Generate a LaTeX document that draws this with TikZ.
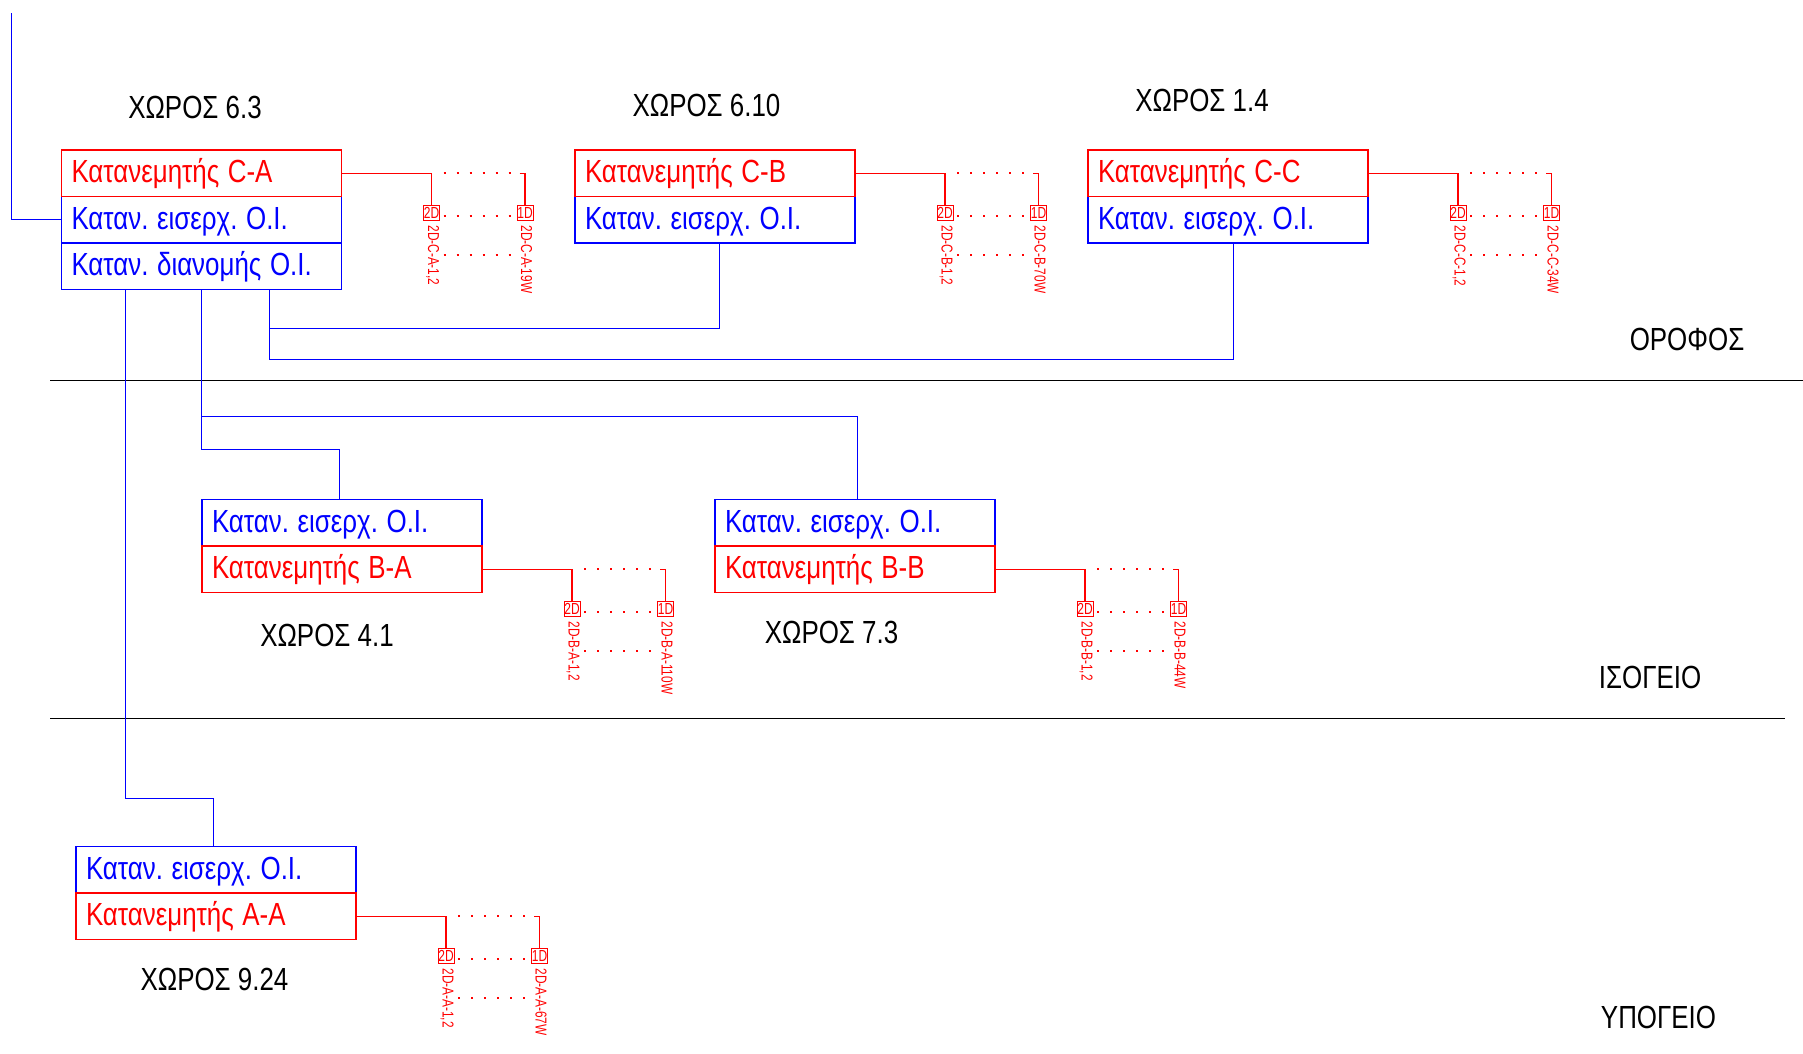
\documentclass[tikz,border=0pt]{standalone}
\usepackage{fontspec}
\usetikzlibrary{positioning}
\newfontfamily\planfont[FakeStretch=0.81]{Liberation Sans}
\newfontfamily\tagfont[FakeStretch=0.75]{Liberation Sans}
\frenchspacing
\tikzset{
	rowbox/.style={rectangle,draw,line width=1.1pt,outer sep=0pt,inner xsep=10pt,inner ysep=0pt,
		text width=260pt,text height=32.5pt,text depth=14pt,
		font=\planfont\fontsize{32}{32}\selectfont,
		execute at begin node={\spaceskip=8.6pt\relax}},
	redrow/.style={rowbox,draw=red,text=red},
	bluerow/.style={rowbox,draw=blue,text=blue},
	room/.style={font=\planfont\fontsize{32}{32}\selectfont,inner sep=0pt},
	bluewire/.style={draw=blue,line width=1pt},
	redwire/.style={draw=red,line width=1.1pt},
	dotrow/.style={draw=red,line width=1.8pt,dash pattern=on 2pt off 11pt},
	portbox/.style={rectangle,draw=red,line width=.9pt,text=red,minimum width=16pt,minimum height=15pt,
		inner sep=0pt,font=\tagfont\fontsize{16}{16}\selectfont},
	porttag/.style={text=red,rotate=-90,anchor=west,inner sep=0pt,font=\tagfont\fontsize{15.8}{16}\selectfont}
}
\begin{document}
\begin{tikzpicture}[x=1pt,y=-1pt]
	\useasboundingbox (0,0) rectangle (1803,1053);
	\node[room] (room63) at (195,107) {ΧΩΡΟΣ 6.3};
	\node[room] (room610) at (706.5,105) {ΧΩΡΟΣ 6.10};
	\node[room] (room14) at (1202,100) {ΧΩΡΟΣ 1.4};
	\node[room] (room41) at (327,635) {ΧΩΡΟΣ 4.1};
	\node[room] (room73) at (831.5,632) {ΧΩΡΟΣ 7.3};
	\node[room] (room924) at (214.5,979) {ΧΩΡΟΣ 9.24};
	\node[room] (floor) at (1687,339.5) {ΟΡΟΦΟΣ};
	\node[room] (ground) at (1650,677.5) {ΙΣΟΓΕΙΟ};
	\node[room] (basement) at (1658.5,1017) {ΥΠΟΓΕΙΟ};
	\draw[line width=1pt] (50,380) -- (1803,380);
	\draw[line width=1pt] (50,718) -- (1785,718);
	\node[bluerow,anchor=north west] (cain) at (61.5,196.5) {Καταν. εισερχ. Ο.Ι.};
	\node[bluerow,below=0pt of cain] (cadist) {Καταν. διανομής Ο.Ι.};
	\node[redrow,above=0pt of cain] (cared) {Κατανεμητής C-A};
	\node[bluerow,anchor=north west] (cbin) at (575,196.5) {Καταν. εισερχ. Ο.Ι.};
	\node[redrow,above=0pt of cbin] (cbred) {Κατανεμητής C-B};
	\node[bluerow,anchor=north west] (ccin) at (1088,196.5) {Καταν. εισερχ. Ο.Ι.};
	\node[redrow,above=0pt of ccin] (ccred) {Κατανεμητής C-C};
	\node[bluerow,anchor=north west] (bain) at (202,499.5) {Καταν. εισερχ. Ο.Ι.};
	\node[redrow,below=0pt of bain] (bared) {Κατανεμητής B-A};
	\node[bluerow,anchor=north west] (bbin) at (715,499.5) {Καταν. εισερχ. Ο.Ι.};
	\node[redrow,below=0pt of bbin] (bbred) {Κατανεμητής B-B};
	\node[bluerow,anchor=north west] (aain) at (76,846.5) {Καταν. εισερχ. Ο.Ι.};
	\node[redrow,below=0pt of aain] (aared) {Κατανεμητής A-A};
	\coordinate (feed) at (11.5,13);
	\coordinate (dropa) at (125,289.5);
	\coordinate (dropb) at (201.7,289.5);
	\coordinate (dropc) at (269,289.5);
	\draw[bluewire] (feed) |- (cain.west);
	\draw[bluewire] (dropc) |- (719,328.5) -- (719,243);
	\draw[bluewire] (dropc) |- (1233,359) -- (1233,243);
	\draw[bluewire] (dropb) |- (857,416.5) -- (857,499.5);
	\draw[bluewire] (dropb) |- (339,449.6) -- (339,499.5);
	\draw[bluewire] (dropa) |- (213,798.5) -- (213,846.5);
	\foreach \src/\code/\last in {cared/C-A/19W,cbred/C-B/70W,ccred/C-C/34W,bared/B-A/110W,bbred/B-B/44W,aared/A-A/67W}{
		\begin{scope}[shift={(\src.east)}]
			\node[portbox] (\src two) at (90,39.5) {2D};
			\node[portbox] (\src one) at (183.5,40) {1D};
			\node[porttag] (\src twotag) at (91,52) {2D-\code-1,2};
			\node[porttag] (\src onetag) at (185,52) {2D-\code-\last};
			\coordinate (\src end) at (178,0);
			\draw[redwire] (\src.east) -| (\src two.north);
			\draw[redwire] (\src end) -| (\src one.north);
			\foreach \rowy in {0,43,82}
				\draw[dotrow] (102,\rowy) -- (169,\rowy);
		\end{scope}
	}
\end{tikzpicture}
\end{document}
